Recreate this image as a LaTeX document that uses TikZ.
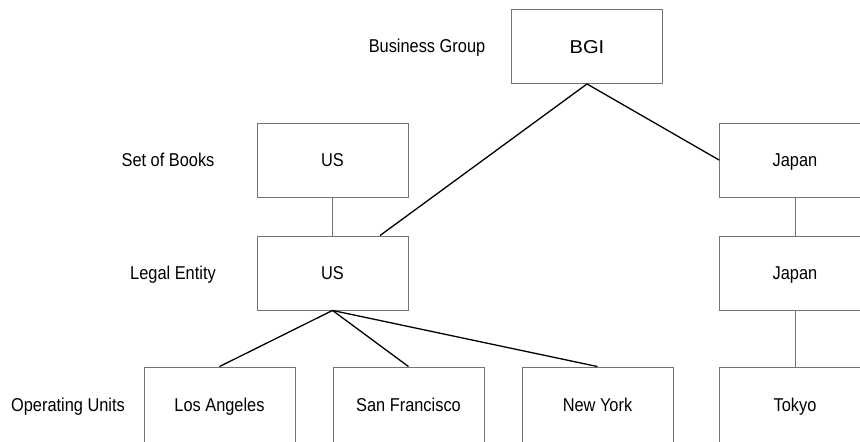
\documentclass[tikz,border=0pt]{standalone}
\usepackage{fontspec}
\setmainfont{Liberation Sans}[FakeStretch=0.88]
\newfontfamily\widesans{Liberation Sans}[FakeStretch=1.08]
\begin{document}
\begin{tikzpicture}[x=1pt,y=-1pt,
  textline/.style={inner sep=0pt,text height=13.3pt,text depth=0pt,
    font=\fontsize{18.6}{20}\selectfont},
  unitbox/.style={textline,draw=black!55,line width=0.9pt,minimum width=151pt,minimum height=74pt},
  levellabel/.style={textline},
  link/.style={draw=black,line width=1.3pt},
  stem/.style={draw=black!55,line width=0.9pt}]
\useasboundingbox (0,0) rectangle (860,442);
\clip (0,0) rectangle (860,442);
\fill[white] (0,0) rectangle (860,442);

% level labels
\node[levellabel] (lblBG) at (427,46) {Business Group};
\node[levellabel] (lblSOB) at (168,159.5) {Set of Books};
\node[levellabel] (lblLE) at (173,272.5) {Legal Entity};
\node[levellabel] (lblOU) at (68,404.5) {Operating Units};

% hierarchy boxes
\node[unitbox,font=\widesans\fontsize{18.6}{20}\selectfont] (bgi) at (587,46.5) {BGI};
\node[unitbox] (sobUS) at (332.5,160) {US};
\node[unitbox] (leUS) at (332.5,273) {US};
\node[unitbox] (sobJP) at (795,160) {Japan};
\node[unitbox] (leJP) at (795,273) {Japan};
% operating units run past the lower edge
\node[unitbox,minimum height=76pt] (ouLA) at (219.5,405) {Los Angeles};
\node[unitbox,minimum height=76pt] (ouSF) at (408.5,405) {San Francisco};
\node[unitbox,minimum height=76pt] (ouNY) at (597.5,405) {New York};
\node[unitbox,minimum height=76pt] (ouTK) at (795,405) {Tokyo};

% connectors
\draw[link] (bgi.south) -- ([xshift=47.5pt]leUS.north);
\draw[link] (bgi.south) -- (sobJP.west);
\draw[link] (leUS.south) -- (ouLA.north);
\draw[link] (leUS.south) -- (ouSF.north);
\draw[link] (leUS.south) -- (ouNY.north);
\draw[stem] (sobUS.south) -- (leUS.north);
\draw[stem] (sobJP.south) -- (leJP.north);
\draw[stem] (leJP.south) -- (ouTK.north);
\end{tikzpicture}
\end{document}
